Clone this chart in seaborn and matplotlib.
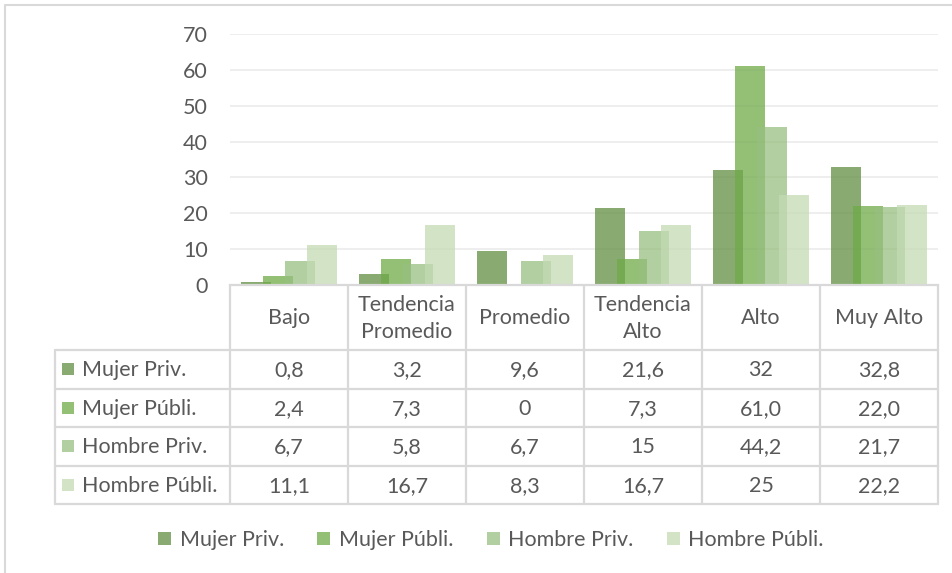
import matplotlib.pyplot as plt
import pandas as pd
import seaborn as sns
from matplotlib.patches import Patch, Rectangle

# datos del gráfico (tal como aparecen en la tabla)
categorias = ['Bajo', 'Tendencia\nPromedio', 'Promedio', 'Tendencia\nAlto', 'Alto', 'Muy Alto']
series = ['Mujer Priv.', 'Mujer Públi.', 'Hombre Priv.', 'Hombre Públi.']
mujer_priv = ['0,8', '3,2', '9,6', '21,6', '32', '32,8']
mujer_publi = ['2,4', '7,3', '0', '7,3', '61,0', '22,0']
hombre_priv = ['6,7', '5,8', '6,7', '15', '44,2', '21,7']
hombre_publi = ['11,1', '16,7', '8,3', '16,7', '25', '22,2']
y_ticks = [0, 10, 20, 30, 40, 50, 60, 70]

colores = ['#628E40', '#70AB48', '#97BF80', '#C4DAB4']
filas = [mujer_priv, mujer_publi, hombre_priv, hombre_publi]

# tabla larga para seaborn
registros = []
for serie, fila in zip(series, filas):
    for cat, txt in zip(categorias, fila):
        registros.append({'categoria': cat, 'serie': serie, 'valor': float(txt.replace(',', '.'))})
df = pd.DataFrame(registros)

sns.set_style('white')
plt.rcParams['font.family'] = ['Lato', 'DejaVu Sans']
gris_txt = '#595959'
gris_lin = '#D9D9D9'
fs = 15.5

W, H = 953, 573
fig = plt.figure(figsize=(W / 100, H / 100), dpi=100)

# fondo para tabla y borde (coordenadas en pixeles)
fondo = fig.add_axes([0, 0, 1, 1])
fondo.set_xlim(0, W)
fondo.set_ylim(H, 0)
fondo.axis('off')

x0, x1 = 230, 938
y_eje, y_top = 285, 34
ax = fig.add_axes([x0 / W, 1 - y_eje / H, (x1 - x0) / W, (y_eje - y_top) / H])

sns.barplot(data=df, x='categoria', y='valor', hue='serie', order=categorias,
            hue_order=series, palette=colores, saturation=1, alpha=0.75,
            width=0.746, gap=-0.32, errorbar=None, legend=False, ax=ax,
            linewidth=0, edgecolor='none')

ax.set_xlim(-0.5, len(categorias) - 0.5)
ax.set_ylim(0, 70)
ax.set_yticks(y_ticks)
ax.set_xticks([])
ax.set_xlabel('')
ax.set_ylabel('')
ax.yaxis.grid(True, color='#EDEDED', lw=1.3)
ax.set_axisbelow(True)
for s in ['left', 'right', 'top']:
    ax.spines[s].set_visible(False)
ax.spines['bottom'].set_color(gris_lin)
ax.spines['bottom'].set_linewidth(1.6)
ax.tick_params(axis='y', length=0, pad=16, labelsize=fs, labelcolor=gris_txt)

# tabla de datos
n = len(categorias)
col_w = (x1 - x0) / n
cols = [x0 + i * col_w for i in range(n + 1)]
x_leg = 55
y_head = 350
row_h = 38.5
rows = [y_head + i * row_h for i in range(len(series) + 1)]
y_fin = rows[-1]

for cx in cols:
    fondo.plot([cx, cx], [y_eje, y_fin], color=gris_lin, lw=1.6, zorder=1)
fondo.plot([x_leg, x_leg], [y_head, y_fin], color=gris_lin, lw=1.6)
for ry in rows:
    fondo.plot([x_leg, x1], [ry, ry], color=gris_lin, lw=1.6)

for i, cat in enumerate(categorias):
    cx = (cols[i] + cols[i + 1]) / 2
    fondo.text(cx, (y_eje + y_head) / 2 + 1, cat, ha='center', va='center',
               fontsize=fs, color=gris_txt, linespacing=1.45)
    for j, fila in enumerate(filas):
        fondo.text(cx, rows[j] + row_h / 2 + 1, fila[i], ha='center', va='center',
                   fontsize=fs, color=gris_txt)

for j, serie in enumerate(series):
    cy = rows[j] + row_h / 2
    fondo.add_patch(Rectangle((62, cy - 6), 12, 12, color=colores[j], alpha=0.75, lw=0))
    fondo.text(82, cy + 1, serie, ha='left', va='center', fontsize=fs, color=gris_txt)

# borde del área del gráfico
fondo.plot([5, 5, W], [H, 5, 5], color=gris_lin, lw=1.5)

# leyenda inferior
handles = [Patch(facecolor=c, alpha=0.75, lw=0) for c in colores]
fig.legend(handles, series, loc='center', bbox_to_anchor=(491 / W, 1 - 540 / H), ncol=4,
           frameon=False, handlelength=0.6, handleheight=0.6, handletextpad=0.4,
           columnspacing=1.55, fontsize=fs, labelcolor=gris_txt)

fig.savefig('out.png', dpi=100)
